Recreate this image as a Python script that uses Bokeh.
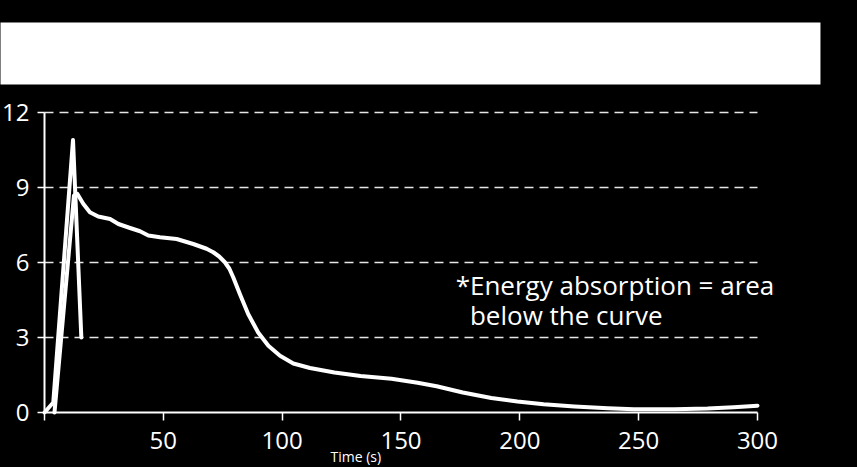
from jinja2 import Template
from bokeh.plotting import figure
from bokeh.models import Label, FixedTicker, BoxAnnotation
from bokeh.embed import file_html
from bokeh.resources import INLINE

# Data
time_spike = [0, 3.7, 12, 15.5]
force_spike = [0, 0.4, 10.9, 3.0]

time_main = [4.2, 12.4, 13.8, 16.3, 19.1, 22.6, 27.6, 31.1, 36, 40.2,
             43.7, 48.6, 55.6, 62.6, 68.2, 71, 73.5, 75.9, 77.8, 79.4,
             82.2, 85.7, 89.9, 94.2, 99.1, 104.7, 111.7, 122, 133, 146,
             157, 165, 176, 188, 199, 210, 223, 237, 248, 265,
             279, 290, 300]
force_main = [0, 8.68, 8.75, 8.35, 8.01, 7.84, 7.74, 7.54, 7.38, 7.25,
              7.08, 7.01, 6.94, 6.74, 6.55, 6.41, 6.24, 6.01, 5.75, 5.41,
              4.74, 3.94, 3.20, 2.67, 2.27, 1.96, 1.78, 1.60, 1.46, 1.35,
              1.19, 1.05, 0.80, 0.58, 0.44, 0.33, 0.24, 0.17, 0.13, 0.13,
              0.16, 0.21, 0.27]

x_ticks = [0, 50, 100, 150, 200, 250, 300]
y_ticks = [0, 3, 6, 9, 12]
note_line1 = "*Energy absorption = area"
note_line2 = "below the curve"
x_title = "Time (s)"

FONT = "Open Sans"

# The frame fills the whole canvas; axes sit at fixed data locations.
p = figure(width=857, height=467, x_range=(-18.51, 342.08), y_range=(-2.2, 16.48),
           output_backend="svg", toolbar_location=None,
           background_fill_color="black", border_fill_color="black",
           outline_line_color=None,
           min_border_left=0, min_border_right=0,
           min_border_top=0, min_border_bottom=0)
p.grid.visible = False

# white banner strip across the top
p.add_layout(BoxAnnotation(left=-19, right=326.5, bottom=13.12, top=15.6,
                           fill_color="white", fill_alpha=1.0, line_color=None,
                           level="underlay"))

# dashed horizontal grid lines spanning the x-axis extent
grid_y = y_ticks[1:]
p.segment(x0=[x_ticks[0]] * len(grid_y), x1=[x_ticks[-1]] * len(grid_y),
          y0=grid_y, y1=grid_y, line_color="#e6e6e6", line_width=1.5,
          line_dash="9 6")

xa = p.xaxis[0]
xa.fixed_location = 0
xa.bounds = (x_ticks[0], x_ticks[-1])
xa.ticker = FixedTicker(ticks=x_ticks)
xa.major_label_overrides = {0: ""}
xa.axis_line_color = "white"
xa.axis_line_width = 2
xa.major_tick_line_color = "white"
xa.major_tick_line_width = 1.5
xa.major_tick_out = 8
xa.major_tick_in = 0
xa.minor_tick_line_color = None
xa.major_label_text_color = "white"
xa.major_label_text_font = FONT
xa.major_label_text_font_size = "24px"
xa.major_label_standoff = 11

ya = p.yaxis[0]
ya.fixed_location = 0
ya.bounds = (y_ticks[0], y_ticks[-1])
ya.ticker = FixedTicker(ticks=y_ticks)
ya.axis_line_color = "white"
ya.axis_line_width = 2
ya.major_tick_line_color = "white"
ya.major_tick_line_width = 1.5
ya.major_tick_out = 7
ya.major_tick_in = 0
ya.minor_tick_line_color = None
ya.major_label_text_color = "white"
ya.major_label_text_font = FONT
ya.major_label_text_font_size = "24px"
ya.major_label_standoff = 8

p.line(time_main, force_main, line_color="white", line_width=4,
       line_join="round", line_cap="round")
p.line(time_spike, force_spike, line_color="white", line_width=4,
       line_join="round", line_cap="round")

p.add_layout(Label(x=173, y=5.12, text=note_line1, text_color="white",
                   text_font=FONT, text_font_size="26px",
                   text_baseline="alphabetic"))
p.add_layout(Label(x=179, y=3.92, text=note_line2, text_color="white",
                   text_font=FONT, text_font_size="26px",
                   text_baseline="alphabetic"))
p.add_layout(Label(x=131, y=-2.14, text=x_title, text_color="white",
                   text_font=FONT, text_font_size="14px",
                   text_align="center", text_baseline="bottom"))

template = Template("""{% extends base %}
{% block preamble %}<style>html, body { background: #000000; }</style>{% endblock %}
""")

open("out.html", "w").write(file_html(p, INLINE, template=template))
